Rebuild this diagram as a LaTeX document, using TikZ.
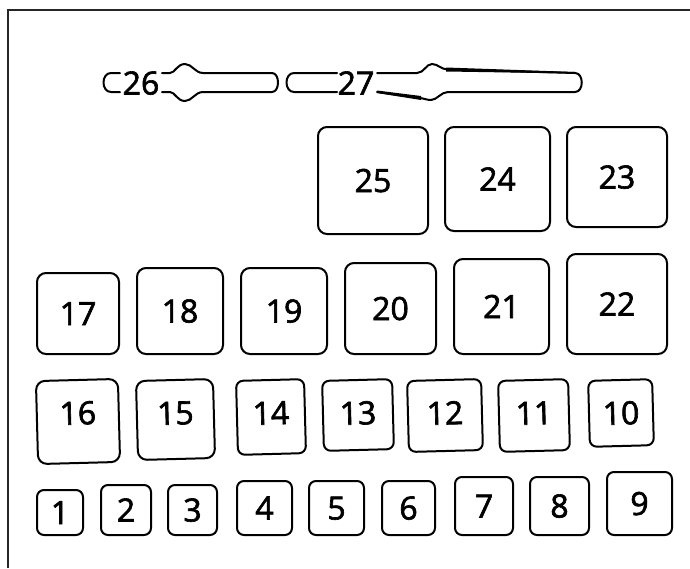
\documentclass[tikz,border=0pt]{standalone}
\usepackage{fontspec}
\setmainfont{Open Sans}
\newfontfamily\numfont{Open Sans}[FakeBold=2]
\begin{document}
\begin{tikzpicture}[x=1pt,y=-1pt,
  box/.style={draw, line width=2pt, rounded corners=9pt, inner sep=0pt,
    font=\numfont\fontsize{32}{38}\selectfont, text height=23pt, text depth=0pt,
    minimum width=#1},
  smallbox/.style={box=#1, rounded corners=7pt},
  tilted/.style={rotate=1.5, text depth=#1},
  lbl/.style={inner sep=0pt, font=\numfont\fontsize{32}{38}\selectfont, text height=23pt, text depth=0pt},
  slot/.style={line width=2pt, line join=round, line cap=round}]
\useasboundingbox (0,0) rectangle (690,568);
% frame
\draw[line width=2pt, black!85] (8,568) -- (8,10) -- (690,10);

% row 1
\node[box=110pt, minimum height=107pt] (b25) at (373,180.5) {25};
\node[box=105pt, minimum height=104pt] (b24) at (497.5,179) {24};
\node[box=100pt, minimum height=100pt] (b23) at (617,177) {23};
% row 2
\node[box=82pt, minimum height=81pt] (b17) at (78,313.5) {17};
\node[box=86pt, minimum height=86pt] (b18) at (180,311) {18};
\node[box=86pt, minimum height=86pt] (b19) at (284,311) {19};
\node[box=91pt, minimum height=91pt] (b20) at (390.5,308.5) {20};
\node[box=95pt, minimum height=95pt] (b21) at (501.5,306.5) {21};
\node[box=100pt, minimum height=100pt] (b22) at (617,304) {22};
% row 3
\node[box=82pt, minimum height=83pt, tilted=17pt] (b16) at (78,421.5) {16};
\node[box=77pt, minimum height=79pt, tilted=13pt] (b15) at (175.5,419.5) {15};
\node[smallbox=68pt, minimum height=74pt, tilted=8pt] (b14) at (271,417) {14};
\node[smallbox=70pt, minimum height=70pt, tilted=4pt] (b13) at (358,415) {13};
\node[smallbox=74pt, minimum height=71pt, tilted=5pt] (b12) at (445,415.5) {12};
\node[smallbox=70pt, minimum height=71pt, tilted=5pt] (b11) at (534,415.5) {11};
\node[smallbox=64pt, minimum height=66pt, tilted=0pt] (b10) at (621,413) {10};
% row 4
\node[smallbox=46pt, minimum height=45pt] (b1) at (60,512.5) {1};
\node[smallbox=50pt, minimum height=50pt] (b2) at (126,510) {2};
\node[smallbox=49pt, minimum height=50pt] (b3) at (192.5,510) {3};
\node[smallbox=55pt, minimum height=54pt] (b4) at (264.5,508) {4};
\node[smallbox=55pt, minimum height=54pt] (b5) at (336.5,508) {5};
\node[smallbox=53pt, minimum height=54pt] (b6) at (408.5,508) {6};
\node[smallbox=58pt, minimum height=58pt] (b7) at (484,506) {7};
\node[smallbox=59pt, minimum height=58pt] (b8) at (559.5,506) {8};
\node[smallbox=65pt, minimum height=63pt] (b9) at (639.5,503.5) {9};

% slot 26
\node[lbl] (t26) at (141,83) {26};
\draw[slot] (120,73) -- (111,73) .. controls (101,73) and (101,92) .. (111,92) -- (120,92);
\draw[slot] (162,73) -- (170,73) .. controls (175,73) and (177,64) .. (185,64)
  .. controls (192,64) and (195,73) .. (203,73) -- (272,73)
  .. controls (280,73) and (280,92) .. (272,92) -- (203,92)
  .. controls (195,92) and (192,101) .. (185,101)
  .. controls (177,101) and (175,92) .. (170,92) -- (162,92);

% slot 27
\node[lbl] (t27) at (356,83) {27};
\draw[slot] (337,73) -- (294,73) .. controls (284,73) and (284,92) .. (294,92) -- (337,92);
\draw[slot] (377,73) -- (417,73) .. controls (424,73) and (426,64) .. (432,64)
  .. controls (438,64) and (441,69.5) .. (448,69.5) -- (575,73)
  .. controls (584,73) and (584,92) .. (575,92) -- (448,92)
  .. controls (441,92) and (437,100) .. (431,100)
  .. controls (427,100) and (424,98.5) .. (420,98) -- (377,92);
\fill (446,67.5) -- (575,72) -- (575,73.5) -- (446,71.5) -- cycle;
\fill (377,90.5) -- (421,96) -- (421,100) -- (377,93) -- cycle;
\end{tikzpicture}
\end{document}
